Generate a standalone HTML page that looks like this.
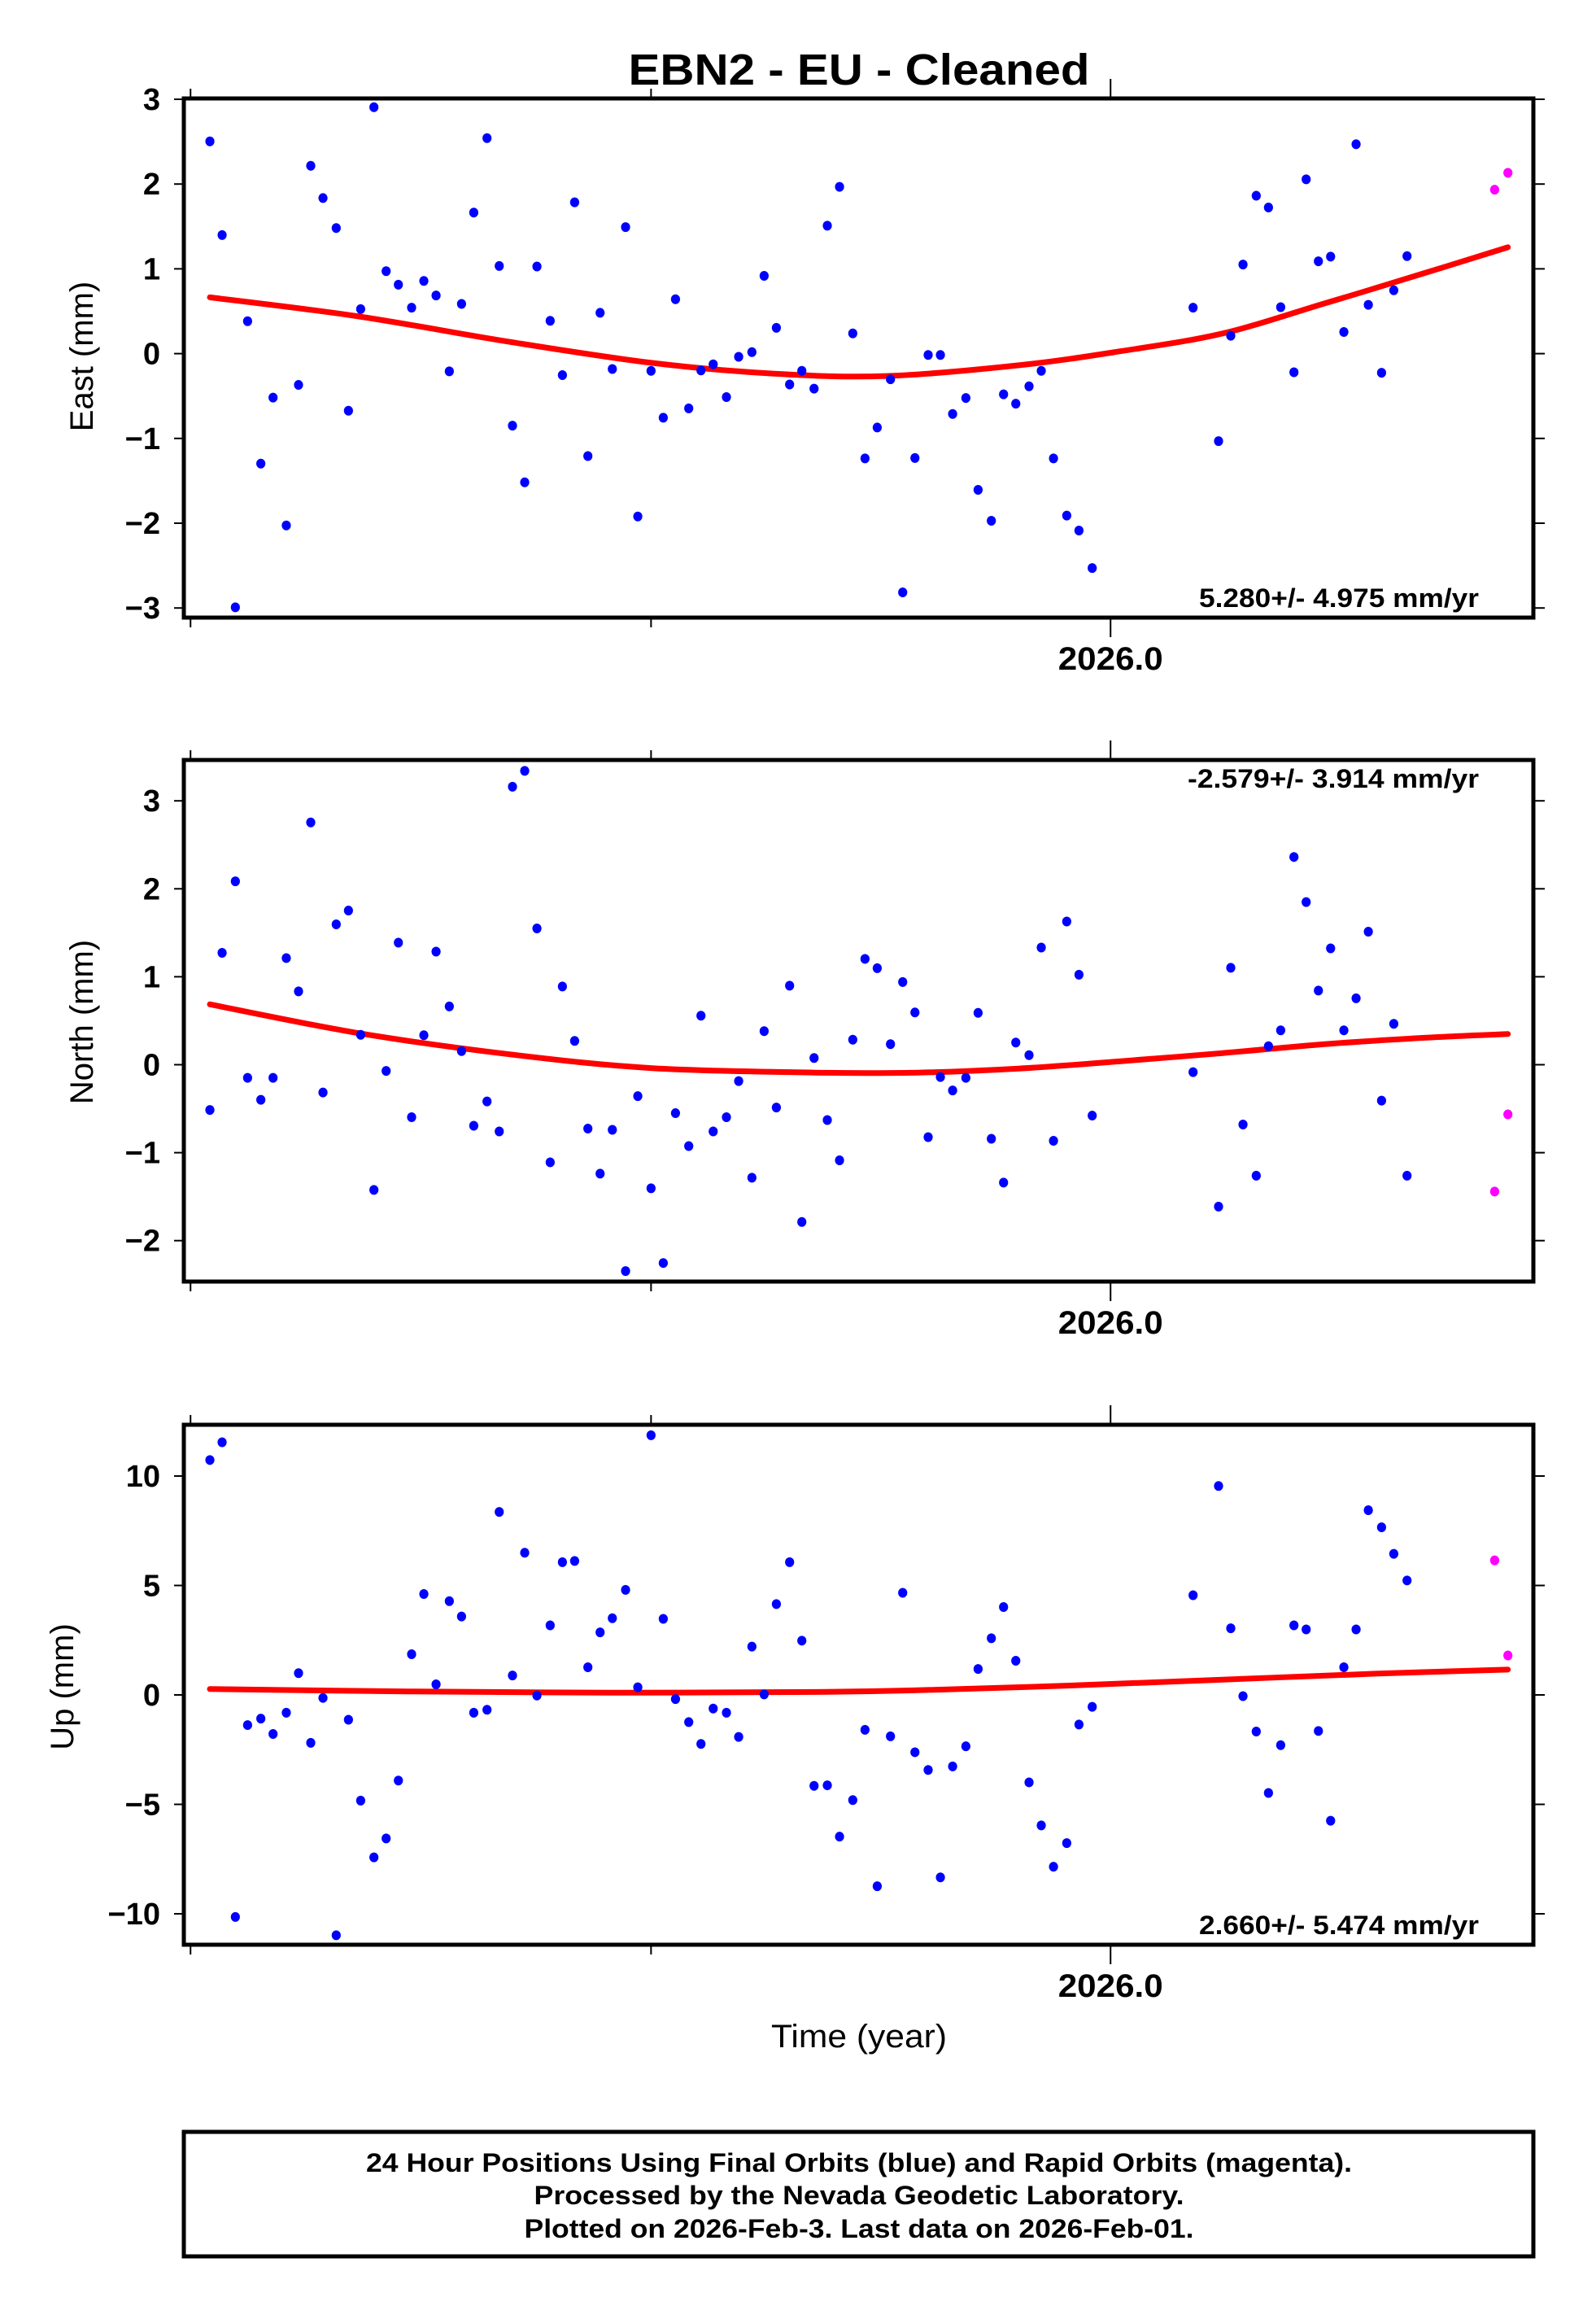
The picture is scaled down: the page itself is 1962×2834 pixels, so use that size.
<!DOCTYPE html>
<html><head><meta charset="utf-8"><style>
html,body{margin:0;padding:0;background:#fff}
svg{display:block}
text{font-family:"Liberation Sans",sans-serif}
</style></head><body>
<svg id="s" xmlns="http://www.w3.org/2000/svg" width="1962" height="2834" viewBox="0 0 1962 2834">
<rect width="1962" height="2834" fill="#fff"/>
<text x="1056" y="104" font-size="54" font-weight="bold" text-anchor="middle" textLength="567" lengthAdjust="spacingAndGlyphs">EBN2  - EU - Cleaned</text>
<text x="1056" y="2516" font-size="40" text-anchor="middle" textLength="216" lengthAdjust="spacingAndGlyphs">Time (year)</text>
<rect x="226" y="2620" width="1659" height="153" fill="none" stroke="#000" stroke-width="5"/>
<text x="1056" y="2669" font-size="32" font-weight="bold" text-anchor="middle" textLength="1212" lengthAdjust="spacingAndGlyphs">24 Hour Positions Using Final Orbits (blue) and Rapid Orbits (magenta).</text>
<text x="1056" y="2709" font-size="32" font-weight="bold" text-anchor="middle" textLength="799" lengthAdjust="spacingAndGlyphs">Processed by the Nevada Geodetic Laboratory.</text>
<text x="1056" y="2750" font-size="32" font-weight="bold" text-anchor="middle" textLength="823" lengthAdjust="spacingAndGlyphs">Plotted on 2026-Feb-3. Last data on 2026-Feb-01.</text>
</svg>
<script>
var S=document.getElementById('s'),NS='http://www.w3.org/2000/svg';
function el(t,a,txt){var e=document.createElementNS(NS,t);for(var k in a)e.setAttribute(k,a[k]);if(txt!=null)e.textContent=txt;S.appendChild(e);return e;}
var XS=1.2525;
function smooth(P){var d='M'+P[0][0].toFixed(1)+','+P[0][1].toFixed(1);
 for(var i=0;i<P.length-1;i++){var p0=P[i-1]||P[i],p1=P[i],p2=P[i+1],p3=P[i+2]||p2;
  var c1=[p1[0]+(p2[0]-p0[0])/6,p1[1]+(p2[1]-p0[1])/6],c2=[p2[0]-(p3[0]-p1[0])/6,p2[1]-(p3[1]-p1[1])/6];
  d+=' C'+c1[0].toFixed(1)+','+c1[1].toFixed(1)+' '+c2[0].toFixed(1)+','+c2[1].toFixed(1)+' '+p2[0].toFixed(1)+','+p2[1].toFixed(1);}
 return d;}
function panel(o){
  var top=o.top,bot=o.bot,L=226,R=1885;
  var xa=187*XS,xb=639*XS,xc=1090*XS;
  el('line',{x1:xc,y1:top-24,x2:xc,y2:top,stroke:'#000','stroke-width':2});
  [xa,xb].forEach(function(x){el('line',{x1:x,y1:top-12,x2:x,y2:top,stroke:'#000','stroke-width':2});});
  el('line',{x1:xc,y1:bot,x2:xc,y2:bot+24,stroke:'#000','stroke-width':2});
  [xa,xb].forEach(function(x){el('line',{x1:x,y1:bot,x2:x,y2:bot+12,stroke:'#000','stroke-width':2});});
  o.yt.forEach(function(v){var y=o.y0-v*o.k;
    el('line',{x1:L-12,y1:y,x2:L,y2:y,stroke:'#000','stroke-width':2});
    el('line',{x1:R,y1:y,x2:R+14,y2:y,stroke:'#000','stroke-width':2});
    el('text',{x:197,y:y+13,'font-size':38,'font-weight':'bold','text-anchor':'end'},(v<0?'\u2212'+(-v):''+v));
  });
  el('text',{x:xc,y:bot+64,'font-size':40,'font-weight':'bold','text-anchor':'middle',textLength:129,lengthAdjust:'spacingAndGlyphs'},'2026.0');
  el('text',{x:0,y:0,'font-size':40,'text-anchor':'middle',transform:'translate('+(o.lx+14)+','+o.ly+') rotate(-90)'},o.label);
  el('text',{x:1818,y:o.ry,'font-size':32,'font-weight':'bold','text-anchor':'end',textLength:o.rw,lengthAdjust:'spacingAndGlyphs'},o.rate);
  var P=o.curve.map(function(p){return [p[0]*XS,o.off+p[1]*o.ys];});
  el('path',{d:smooth(P),fill:'none',stroke:'#ff0000','stroke-width':7,'stroke-linecap':'round','stroke-linejoin':'round'});
  o.pts.forEach(function(p){el('ellipse',{cx:p[0]*XS,cy:o.off+p[1]*o.ys,rx:5.6,ry:6,fill:'#0000ff'});});
  o.mag.forEach(function(p){el('ellipse',{cx:p[0]*XS,cy:o.off+p[1]*o.ys,rx:5.6,ry:6,fill:'#ff00ff'});});
  el('rect',{x:L,y:top,width:R-L,height:bot-top,fill:'none',stroke:'#000','stroke-width':5});
}
panel({top:121,bot:759,y0:434.6,k:104.2,yt:[3,2,1,0,-1,-2,-3],lx:100,ly:438,label:'East (mm)',
 ry:746,rw:344,rate:'5.280+/- 4.975 mm/yr',off:0,ys:0.5755,
 curve:[[206,635],[350,675],[500,730],[640,775],[760,798],[870,803],[1000,780],[1100,750],[1200,712],[1300,648],[1400,582],[1480,528]],
 pts:[[206,302],[218,502],[231,1297],[243,686],[256,990],[268,849],[281,1122],[293,822],[305,354],[317,423],[330,487],[342,877],[354,660],[367,229],[379,579],[391,608],[404,657],[416,600],[428,631],[441,793],[453,649],[465,454],[478,295],[490,568],[503,909],[515,1030],[527,569],[540,685],[552,801],[564,432],[577,974],[589,668],[601,788],[614,485],[626,1103],[639,792],[651,892],[663,639],[676,872],[688,791],[700,778],[713,848],[725,762],[738,752],[750,589],[762,700],[775,821],[787,792],[799,830],[812,482],[824,399],[837,712],[849,979],[861,913],[874,810],[886,1265],[898,978],[911,758],[923,758],[935,884],[948,850],[960,1046],[973,1112],[985,842],[997,862],[1010,825],[1022,792],[1034,979],[1047,1101],[1059,1133],[1072,1213],[1171,657],[1196,942],[1208,717],[1220,565],[1233,418],[1245,443],[1257,656],[1270,795],[1282,383],[1294,558],[1306,548],[1319,709],[1331,308],[1343,651],[1356,796],[1368,620],[1381,547]],
 mag:[[1467,405],[1480,369]]});
panel({top:934,bot:1575,y0:1308.5,k:108.1,yt:[3,2,1,0,-1,-2],lx:100,ly:1256,label:'North (mm)',
 ry:968,rw:358,rate:'-2.579+/- 3.914 mm/yr',off:900,ys:0.499,
 curve:[[206,670],[350,740],[500,793],[640,827],[800,838],[900,838],[1000,828],[1100,810],[1200,790],[1300,768],[1400,752],[1480,743]],
 pts:[[206,930],[218,543],[231,367],[243,851],[256,905],[268,851],[281,556],[293,638],[305,222],[317,887],[330,473],[342,439],[354,745],[367,1127],[379,834],[391,518],[404,948],[416,746],[428,540],[441,675],[453,785],[465,969],[478,909],[490,983],[503,134],[515,95],[527,483],[540,1059],[552,626],[564,760],[577,976],[589,1087],[601,979],[614,1327],[626,896],[639,1123],[651,1307],[663,938],[676,1019],[688,698],[700,983],[713,948],[725,859],[738,1097],[750,736],[762,924],[775,624],[787,1206],[799,802],[812,955],[824,1054],[837,757],[849,558],[861,581],[874,768],[886,615],[898,690],[911,997],[923,849],[935,882],[948,851],[960,691],[973,1001],[985,1109],[997,764],[1010,795],[1022,530],[1034,1006],[1047,466],[1059,597],[1072,944],[1171,837],[1196,1168],[1208,580],[1220,966],[1233,1092],[1245,773],[1257,734],[1270,307],[1282,418],[1294,636],[1306,532],[1319,734],[1331,655],[1343,491],[1356,907],[1368,718],[1381,1092]],
 mag:[[1467,1131],[1480,941]]});
panel({top:1751,bot:2390,y0:2083,k:26.9,yt:[10,5,0,-5,-10],lx:76,ly:2073,label:'Up (mm)',
 ry:2377,rw:344,rate:'2.660+/- 5.474 mm/yr',off:1700,ys:0.7255,
 curve:[[206,518],[400,522],[600,524],[800,523],[900,520],[1050,512],[1200,502],[1350,492],[1480,485]],
 pts:[[206,130],[218,100],[231,904],[243,579],[256,568],[268,594],[281,558],[293,491],[305,609],[317,533],[330,935],[342,570],[354,707],[367,803],[379,771],[391,673],[404,459],[416,357],[428,510],[441,369],[453,395],[465,558],[478,553],[490,218],[503,495],[515,287],[527,529],[540,410],[552,303],[564,301],[577,481],[589,422],[601,398],[614,350],[626,515],[639,88],[651,399],[663,535],[676,574],[688,611],[700,551],[713,558],[725,599],[738,446],[750,527],[762,374],[775,303],[787,436],[799,682],[812,681],[824,768],[837,706],[849,587],[861,852],[874,598],[886,355],[898,625],[911,655],[923,837],[935,649],[948,615],[960,484],[973,432],[985,379],[997,470],[1010,676],[1022,749],[1034,819],[1047,779],[1059,578],[1072,548],[1171,359],[1196,174],[1208,415],[1220,530],[1233,590],[1245,694],[1257,613],[1270,410],[1282,417],[1294,589],[1306,741],[1319,481],[1331,417],[1343,215],[1356,244],[1368,289],[1381,334]],
 mag:[[1467,300],[1480,461]]});
</script>
</body></html>
